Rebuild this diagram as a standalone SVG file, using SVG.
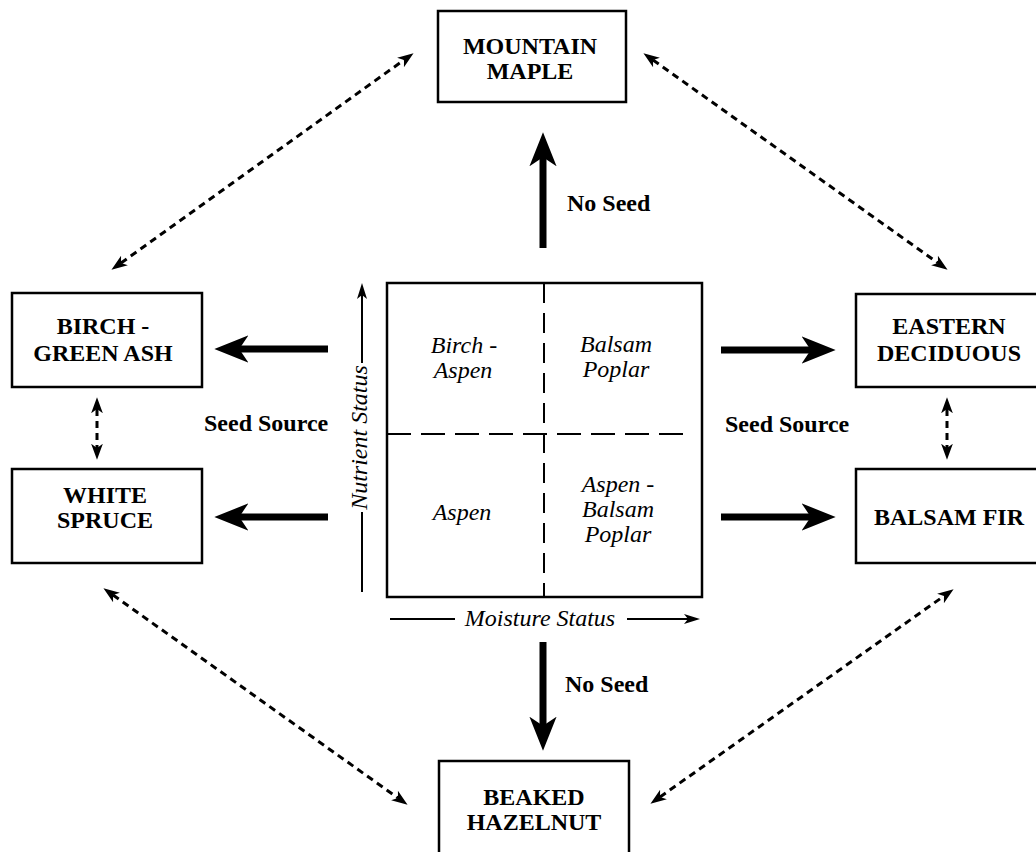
<svg xmlns="http://www.w3.org/2000/svg" width="1036" height="852" viewBox="0 0 1036 852">
<defs>
<style>
.box{fill:#fff;stroke:#000;stroke-width:2.5}
.bl{font-family:"Liberation Serif","Times New Roman",serif;font-weight:bold;font-size:24px;fill:#000;text-anchor:middle}
.it{font-family:"Liberation Serif","Times New Roman",serif;font-style:italic;font-size:24px;fill:#000;text-anchor:middle}
.lab{font-family:"Liberation Serif","Times New Roman",serif;font-weight:bold;font-size:24px;fill:#000}
.thick{stroke:#000;stroke-width:7;fill:none;marker-end:url(#big)}
.dash{stroke:#000;stroke-width:3;fill:none;stroke-dasharray:7 5;marker-start:url(#sm);marker-end:url(#sm)}
.thin{stroke:#000;stroke-width:2;fill:none}
.grid{stroke:#000;stroke-width:2;fill:none}
</style>
<marker id="big" markerUnits="userSpaceOnUse" markerWidth="34" markerHeight="28" viewBox="0 0 30 24" refX="10" refY="12" orient="auto">
<path d="M0,0 L30,12 L0,24 L8,12 z" fill="#000"/>
</marker>
<marker id="sm" markerUnits="userSpaceOnUse" markerWidth="16" markerHeight="13" viewBox="0 0 15 11" refX="4" refY="5.5" orient="auto-start-reverse">
<path d="M0,0 L15,5.5 L0,11 L4,5.5 z" fill="#000"/>
</marker>
<marker id="thinhead" markerUnits="userSpaceOnUse" markerWidth="16" markerHeight="12" viewBox="0 0 16 10" refX="6" refY="5" orient="auto">
<path d="M0,0 L16,5 L0,10 L4,5 z" fill="#000"/>
</marker>
</defs>

<g id="connectors">
<line class="thick" x1="543" y1="248" x2="543" y2="155"/>
<line class="thick" x1="543" y1="642" x2="543" y2="728"/>
<line class="thick" x1="328" y1="349" x2="237" y2="349"/>
<line class="thick" x1="328" y1="517" x2="237" y2="517"/>
<line class="thick" x1="721" y1="350" x2="813" y2="350"/>
<line class="thick" x1="721" y1="517" x2="813" y2="517"/>
<line class="dash" x1="121" y1="263" x2="404" y2="60"/>
<line class="dash" x1="653" y1="60" x2="938" y2="263"/>
<line class="dash" x1="113" y1="595" x2="398" y2="798"/>
<line class="dash" x1="660" y1="797" x2="944" y2="596"/>
<line class="dash" x1="97" y1="409" x2="97" y2="448"/>
<line class="dash" x1="947" y1="409" x2="947" y2="448"/>
<text class="lab" x="567" y="211">No Seed</text>
<text class="lab" x="565" y="692">No Seed</text>
<text class="lab" x="204" y="431">Seed Source</text>
<text class="lab" x="725" y="432">Seed Source</text>
</g>

<g id="matrix">
<rect class="box" x="387" y="283" width="315" height="314"/>
<line class="grid" x1="544" y1="283" x2="544" y2="597" stroke-dasharray="20 10"/>
<line class="grid" x1="387" y1="434" x2="692" y2="434" stroke-dasharray="24 10"/>
<text class="it" x="464" y="353">Birch -</text>
<text class="it" x="463" y="378">Aspen</text>
<text class="it" x="616" y="352">Balsam</text>
<text class="it" x="616" y="377">Poplar</text>
<text class="it" x="462" y="520">Aspen</text>
<text class="it" x="618" y="492">Aspen -</text>
<text class="it" x="618" y="517">Balsam</text>
<text class="it" x="618" y="542">Poplar</text>
<line class="thin" x1="362" y1="592" x2="362" y2="512"/>
<line class="thin" x1="362" y1="363" x2="362" y2="293" marker-end="url(#thinhead)"/>
<text class="it" transform="translate(367,437.5) rotate(-90)" x="0" y="0">Nutrient Status</text>
<line class="thin" x1="390" y1="619" x2="455" y2="619"/>
<line class="thin" x1="627" y1="619" x2="690" y2="619" marker-end="url(#thinhead)"/>
<text class="it" x="540" y="626">Moisture Status</text>
</g>

<g id="mountain-maple">
<rect class="box" x="438" y="11" width="188" height="91"/>
<text class="bl" x="530" y="54">MOUNTAIN</text>
<text class="bl" x="530" y="79">MAPLE</text>
</g>

<g id="birch-green-ash">
<rect class="box" x="12" y="293" width="190" height="94"/>
<text class="bl" x="103" y="334">BIRCH -</text>
<text class="bl" x="103" y="361">GREEN ASH</text>
</g>

<g id="white-spruce">
<rect class="box" x="12" y="469" width="190" height="94"/>
<text class="bl" x="105" y="503">WHITE</text>
<text class="bl" x="105" y="528">SPRUCE</text>
</g>

<g id="eastern-deciduous">
<rect class="box" x="856" y="294" width="190" height="93"/>
<text class="bl" x="949" y="334">EASTERN</text>
<text class="bl" x="949" y="361">DECIDUOUS</text>
</g>

<g id="balsam-fir">
<rect class="box" x="856" y="469" width="190" height="94"/>
<text class="bl" x="949" y="525">BALSAM FIR</text>
</g>

<g id="beaked-hazelnut">
<rect class="box" x="439" y="761" width="190" height="100"/>
<text class="bl" x="534" y="805">BEAKED</text>
<text class="bl" x="534" y="830">HAZELNUT</text>
</g>
</svg>
